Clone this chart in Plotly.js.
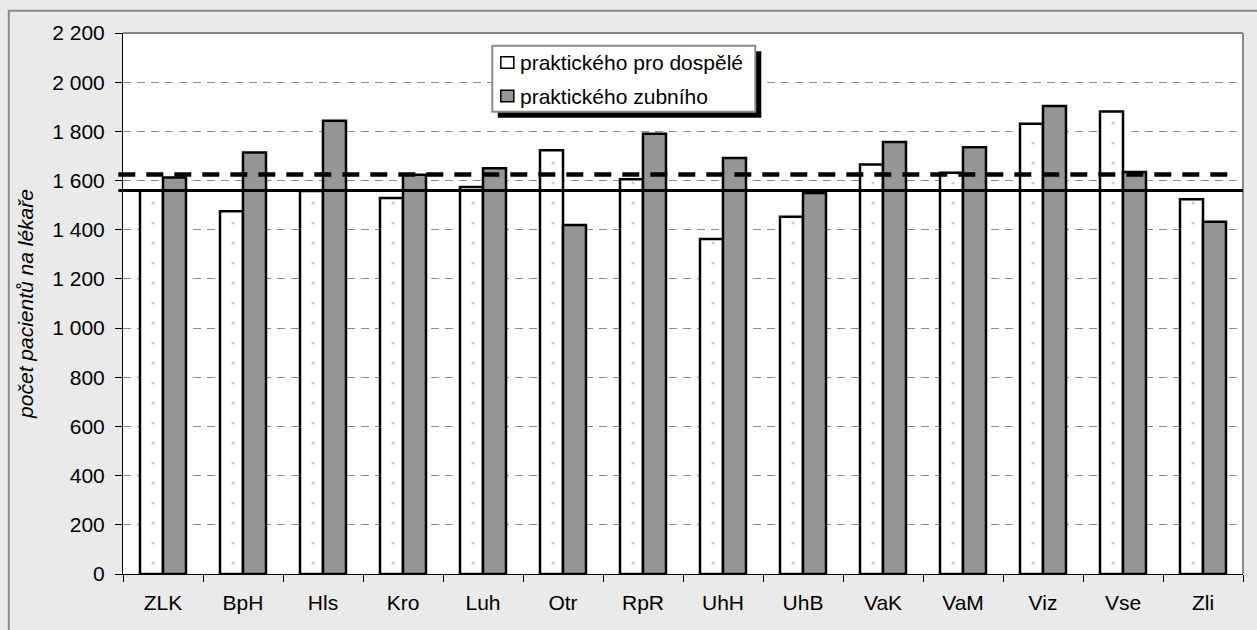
<!DOCTYPE html>
<html>
<head>
<meta charset="utf-8">
<script src="https://cdn.plot.ly/plotly-3.0.1.min.js"></script>
<style>html,body{margin:0;padding:0;background:#eaeaea;}#chart{width:1257px;height:630px;}</style>
</head>
<body>
<div id="chart"></div>
<script>
// Data
const categories = ["ZLK","BpH","Hls","Kro","Luh","Otr","RpR","UhH","UhB","VaK","VaM","Viz","Vse","Zli"];
const dospele = [1560, 1475, 1557, 1529, 1574, 1723, 1605, 1362, 1453, 1665, 1632, 1831, 1881, 1524];
const zubni   = [1612, 1714, 1843, 1624, 1650, 1419, 1790, 1692, 1549, 1757, 1735, 1903, 1635, 1432];
const seriesNames = ["praktického pro dospělé", "praktického zubního"];
const avgDospele = 1560;
const avgZubni = 1625;
const yTicks = [0,200,400,600,800,1000,1200,1400,1600,1800,2000,2200];

// Geometry (px)
const W = 1257, H = 630;
const L = 122.7, R = 1242.7, T = 32.7, B = 574.3;
const pw = R - L, ph = B - T;
const px2x = p => (p - L) / pw;
const px2y = p => (B - p) / ph;

const FONT = "Liberation Sans, Arial, sans-serif";

const traces = [
  {
    type: "bar", name: seriesNames[0], x: categories, y: dospele,
    marker: {
      color: "#ffffff",
      line: {color: "#000000", width: 2.5},
      pattern: {shape: ".", size: 20, solidity: 0.02, fgcolor: "#9a9a9a", bgcolor: "#ffffff", fillmode: "overlay"}
    },
    hoverinfo: "x+y"
  },
  {
    type: "bar", name: seriesNames[1], x: categories, y: zubni,
    marker: {color: "#969696", line: {color: "#000000", width: 2.5}},
    hoverinfo: "x+y"
  }
];

// custom legend (box, shadow, symbols, text)
const legendShapes = [
  {type: "rect", xref: "paper", yref: "paper", x0: px2x(497.5), x1: px2x(761), y0: px2y(117.5), y1: px2y(51),
   line: {width: 0}, fillcolor: "#000000", layer: "above"},
  {type: "rect", xref: "paper", yref: "paper", x0: px2x(492), x1: px2x(755), y0: px2y(111.5), y1: px2y(45.5),
   line: {color: "#8a8a8a", width: 2}, fillcolor: "#ffffff", layer: "above"},
  {type: "rect", xref: "paper", yref: "paper", x0: px2x(500.5), x1: px2x(513.5), y0: px2y(68), y1: px2y(56.5),
   line: {color: "#000000", width: 1.5}, fillcolor: "#ffffff", layer: "above"},
  {type: "rect", xref: "paper", yref: "paper", x0: px2x(500.5), x1: px2x(513.5), y0: px2y(101.5), y1: px2y(90),
   line: {color: "#000000", width: 1.5}, fillcolor: "#969696", layer: "above"}
];
const legendAnn = seriesNames.map((n, i) => ({
  xref: "paper", yref: "paper", x: px2x(518), y: px2y(i === 0 ? 62.5 : 96),
  xanchor: "left", yanchor: "middle", showarrow: false, text: n,
  font: {family: FONT, size: 21, color: "#000"}
}));

const layout = {
  width: W, height: H,
  paper_bgcolor: "#eaeaea",
  plot_bgcolor: "#ffffff",
  separators: ", ",
  margin: {l: L, r: W - R, t: T, b: H - B, pad: 0},
  barmode: "group",
  bargap: 0.425,
  bargroupgap: 0,
  font: {family: FONT, size: 21, color: "#000"},
  showlegend: false,
  xaxis: {
    type: "category",
    tickson: "boundaries",
    ticks: "outside", ticklen: 7, tickcolor: "#000", tickwidth: 1,
    showline: true, linecolor: "#000", linewidth: 1,
    showgrid: false, zeroline: false,
    ticklabelstandoff: 10,
    tickfont: {family: FONT, size: 21},
    fixedrange: true
  },
  yaxis: {
    range: [0, 2200],
    tickvals: yTicks,
    tickformat: ",d",
    ticks: "outside", ticklen: 7, tickcolor: "#000", tickwidth: 1,
    showline: true, linecolor: "#000", linewidth: 1,
    showgrid: true, gridcolor: "#8c8c8c", gridwidth: 1, griddash: "8px,6px",
    zeroline: false,
    ticklabelstandoff: 6,
    tickfont: {family: FONT, size: 21},
    title: {text: "počet pacientů na lékaře", font: {family: FONT, size: 21, style: "italic"}, standoff: 12},
    fixedrange: true
  },
  annotations: legendAnn,
  shapes: [
    // outer chart border
    {type: "rect", xref: "paper", yref: "paper", x0: px2x(8.5), x1: px2x(1300), y0: px2y(700), y1: px2y(10.5),
     line: {color: "#8a8a8a", width: 2}, fillcolor: "rgba(0,0,0,0)", layer: "below"},
    // plot area top and right border
    {type: "line", xref: "paper", yref: "paper", x0: 0, x1: 1, y0: 1, y1: 1, line: {color: "#888888", width: 2}, layer: "above"},
    {type: "line", xref: "paper", yref: "paper", x0: 1, x1: 1, y0: 0, y1: 1, line: {color: "#888888", width: 2}, layer: "above"},
    // average lines
    {type: "line", xref: "paper", yref: "y", x0: px2x(118), x1: px2x(1233), y0: avgZubni, y1: avgZubni,
     line: {color: "#000000", width: 4.5, dash: "17px,11px"}, layer: "above"},
    {type: "line", xref: "paper", yref: "y", x0: px2x(118), x1: 1, y0: avgDospele, y1: avgDospele,
     line: {color: "#000000", width: 3}, layer: "above"}
  ].concat(legendShapes)
};

Plotly.newPlot("chart", traces, layout, {displayModeBar: false, staticPlot: true});
</script>
</body>
</html>
